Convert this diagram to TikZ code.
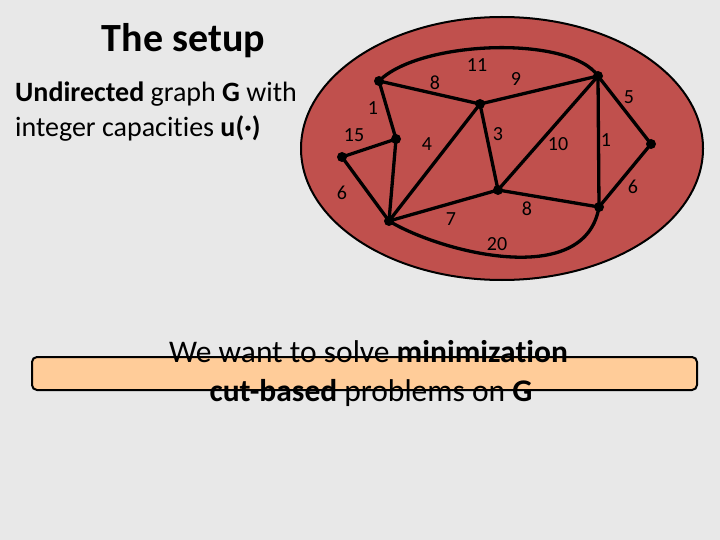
\documentclass[tikz,border=0pt]{standalone}
\usepackage{fontspec}
\setmainfont{Carlito}[Ligatures=NoCommon]
\definecolor{bgcol}{RGB}{232,232,232}
\definecolor{ellred}{RGB}{192,80,77}
\definecolor{peach}{RGB}{255,204,153}
\pgfdeclarelayer{back}
\pgfdeclarelayer{edgelayer}
\pgfsetlayers{back,edgelayer,main}
\begin{document}
\begin{tikzpicture}[x=1pt,y=-1pt,
  vtx/.style={circle,fill=black,inner sep=0pt,minimum size=10pt},
  edge/.style={line width=3.3pt,line cap=round},
  wlabel/.style={inner sep=0pt,font=\fontsize{20}{22}\selectfont},
  txt/.style={inner sep=0pt,anchor=base west,font=\fontsize{28}{32}\selectfont},
  bot/.style={inner sep=0pt,anchor=base,font=\fontsize{31.5}{36}\selectfont}]
\begin{pgfonlayer}{back}
\fill[bgcol] (0,0) rectangle (720,540);
\draw[fill=ellred,line width=2pt] (502,148.5) ellipse [x radius=201, y radius=131.5];
\end{pgfonlayer}
\useasboundingbox (0,0) rectangle (720,540);

% vertices
\node[vtx] (A) at (379,81) {};
\node[vtx] (B) at (396,139) {};
\node[vtx] (C) at (342,157) {};
\node[vtx] (D) at (389,221) {};
\node[vtx] (E) at (480,104) {};
\node[vtx] (F) at (498,190) {};
\node[vtx] (G) at (598,76) {};
\node[vtx] (H) at (651,144) {};
\node[vtx] (I) at (599,207) {};

\begin{pgfonlayer}{edgelayer}
\draw[edge] (A.center) -- (E.center);
\draw[edge] (A.center) -- (B.center);
\draw[edge] (B.center) -- (C.center);
\draw[edge] (B.center) -- (D.center);
\draw[edge] (C.center) -- (D.center);
\draw[edge] (D.center) -- (E.center);
\draw[edge] (D.center) -- (F.center);
\draw[edge] (E.center) -- (F.center);
\draw[edge] (E.center) -- (G.center);
\draw[edge] (F.center) -- (G.center);
\draw[edge] (F.center) -- (I.center);
\draw[edge] (G.center) -- (I.center);
\draw[edge] (G.center) -- (H.center);
\draw[edge] (H.center) -- (I.center);
\draw[edge] (A.center) .. controls (420,40) and (570,35) .. (G.center);
\draw[edge] (D.center) .. controls (440,252) and (585,290) .. (I.center);
\end{pgfonlayer}

% weights
\node[wlabel] (w11) at (477,65) {11};
\node[wlabel] (w8a) at (435,83) {8};
\node[wlabel] (w9) at (516,79) {9};
\node[wlabel] (w5) at (629,97) {5};
\node[wlabel] (w1a) at (373,108) {1};
\node[wlabel] (w15) at (354,135) {15};
\node[wlabel] (w4) at (427,144) {4};
\node[wlabel] (w3) at (498,134) {3};
\node[wlabel] (w10) at (558,144) {10};
\node[wlabel] (w1b) at (606,140) {1};
\node[wlabel] (w6a) at (342,193) {6};
\node[wlabel] (w6b) at (633,187) {6};
\node[wlabel] (w7) at (451,219) {7};
\node[wlabel] (w8b) at (527,209) {8};
\node[wlabel] (w20) at (497,244) {20};

% texts
\node[inner sep=0pt,anchor=base,font=\fontsize{40}{44}\selectfont\bfseries] (title) at (183.5,52) {The setup};
\node[txt] (t1) at (15,101.7) {\textbf{Undirected} graph \textbf{G} with};
\node[txt] (t2) at (15,136.7) {integer capacities \textbf{u(·)}};

\node[draw,fill=peach,line width=2pt,rounded corners=5pt,minimum width=665pt,minimum height=33pt,inner sep=0pt] (box) at (364.5,373.5) {};
\node[bot] (b1) at (368.5,362) {We want to solve \textbf{minimization}};
\node[bot] (b2) at (371,401) {\textbf{cut-based} problems on \textbf{G}};
\end{tikzpicture}
\end{document}
